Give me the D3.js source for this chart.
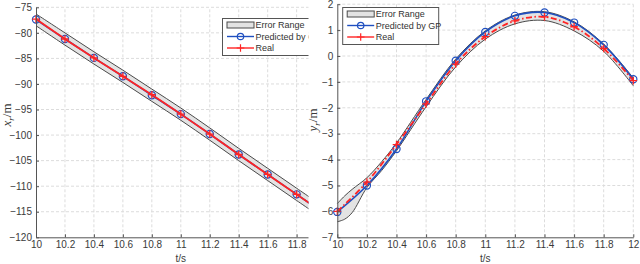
<!DOCTYPE html>
<html>
<head>
<meta charset="utf-8">
<script src="https://cdn.jsdelivr.net/npm/d3@7/dist/d3.min.js"></script>
<style>
  body { margin: 0; background: #fff; }
  text { font-family: "Liberation Sans", Arial, sans-serif; }
</style>
</head>
<body>
<div id="chart"></div>
<script>
// time samples (s)
var tVals = [10, 10.2, 10.4, 10.6, 10.8, 11, 11.2, 11.4, 11.6, 11.8, 12];
var xTicks = [10, 10.2, 10.4, 10.6, 10.8, 11, 11.2, 11.4, 11.6, 11.8, 12];

// left panel: x_r
var xPred = [-77.4, -81.2, -84.9, -88.5, -92.2, -95.9, -99.8, -103.8, -107.7, -111.6, -115.5];
var xReal = [-77.3, -81.2, -84.9, -88.5, -92.1, -95.9, -99.8, -103.8, -107.7, -111.6, -115.5];
var xUpper = [-76.3, -80.0, -83.7, -87.3, -91.0, -94.7, -98.6, -102.6, -106.5, -110.4, -114.3];
var xLower = [-78.6, -82.4, -86.1, -89.7, -93.4, -97.1, -101.0, -105.0, -108.9, -112.8, -116.7];
var xYTicks = [-120, -115, -110, -105, -100, -95, -90, -85, -80, -75];

// right panel: y_r
var yPred = [-6.02, -5.0, -3.59, -1.75, -0.18, 0.93, 1.55, 1.68, 1.29, 0.43, -0.9];
var yReal = [-6.0, -4.87, -3.42, -1.85, -0.31, 0.75, 1.36, 1.51, 1.13, 0.29, -0.95];
var bandT = [10, 10.05, 10.1, 10.2, 10.3, 10.4, 10.6, 10.8, 11, 11.2, 11.4, 11.6, 11.8, 12];
var yUpper = [-5.7, -5.4, -5.15, -4.7, -4.08, -3.36, -1.68, -0.12, 0.97, 1.58, 1.71, 1.32, 0.46, -0.85];
var yLower = [-6.4, -6.3, -6.05, -5.08, -4.42, -3.66, -1.96, -0.42, 0.65, 1.24, 1.37, 0.97, 0.18, -1.15];
var yYTicks = [-7, -6, -5, -4, -3, -2, -1, 0, 1, 2];

var legendNames = ["Error Range", "Predicted by GP", "Real"];

var blue = "#1f4fc0", red = "#ff2424";

var svg = d3.select("#chart").append("svg")
    .attr("width", 640)
    .attr("height", 264);

svg.append("defs").append("clipPath").attr("id", "clipL")
    .append("rect").attr("x", 0).attr("y", 0).attr("width", 308.5).attr("height", 264);

function drawPanel(g, cfg) {
    var x = cfg.x, y = cfg.y;
    var x0 = x.range()[0], x1 = x.range()[1];
    var yb = y.range()[0], yt = y.range()[1];
    var ticksX = xTicks.filter(function (d) { return x(d) <= cfg.xMax; });

    // grid
    g.append("g").selectAll("line.gx")
        .data(ticksX.slice(1))
        .enter().append("line")
        .attr("x1", function (d) { return x(d); })
        .attr("x2", function (d) { return x(d); })
        .attr("y1", yb).attr("y2", yt)
        .attr("stroke", "#dcdcdc").attr("stroke-dasharray", "3,2");
    g.append("g").selectAll("line.gy")
        .data(cfg.yTicks.slice(1))
        .enter().append("line")
        .attr("x1", x0).attr("x2", x1)
        .attr("y1", function (d) { return y(d); })
        .attr("y2", function (d) { return y(d); })
        .attr("stroke", "#dcdcdc").attr("stroke-dasharray", "3,2");

    // error band
    var area = d3.area()
        .x(function (d) { return x(d.t); })
        .y0(function (d) { return y(d.lo); })
        .y1(function (d) { return y(d.hi); })
        .curve(d3.curveCatmullRom);
    var bandData = cfg.bandT.map(function (t, i) { return { t: t, lo: cfg.lower[i], hi: cfg.upper[i] }; });
    g.append("path").datum(bandData)
        .attr("d", area)
        .attr("fill", "#e3e3e3");
    var edge = d3.line()
        .x(function (d) { return x(d[0]); })
        .y(function (d) { return y(d[1]); })
        .curve(d3.curveCatmullRom);
    [cfg.upper, cfg.lower].forEach(function (arr) {
        g.append("path").datum(cfg.bandT.map(function (t, i) { return [t, arr[i]]; }))
            .attr("d", edge).attr("fill", "none")
            .attr("stroke", "#4a4a4a").attr("stroke-width", 1);
    });

    // predicted
    g.append("path").datum(tVals.map(function (t, i) { return [t, cfg.pred[i]]; }))
        .attr("d", edge).attr("fill", "none")
        .attr("stroke", blue).attr("stroke-width", 1.6);
    g.append("g").selectAll("circle")
        .data(tVals.map(function (t, i) { return [t, cfg.pred[i]]; }))
        .enter().append("circle")
        .attr("cx", function (d) { return x(d[0]); })
        .attr("cy", function (d) { return y(d[1]); })
        .attr("r", 3.6)
        .attr("fill", "none").attr("stroke", blue).attr("stroke-width", 1.2);

    // real
    g.append("path").datum(tVals.map(function (t, i) { return [t, cfg.real[i]]; }))
        .attr("d", edge).attr("fill", "none")
        .attr("stroke", red).attr("stroke-width", 1.8)
        .attr("stroke-dasharray", cfg.realDash);
    g.append("g").selectAll("path.plus")
        .data(tVals.map(function (t, i) { return [t, cfg.real[i]]; }))
        .enter().append("path")
        .attr("transform", function (d) { return "translate(" + x(d[0]) + "," + y(d[1]) + ")"; })
        .attr("d", "M-3.8,0H3.8M0,-3.8V3.8")
        .attr("stroke", red).attr("stroke-width", 1.3);

    // axes
    var xa = g.append("g")
        .attr("transform", "translate(0," + yb + ")")
        .call(d3.axisBottom(x).tickValues(ticksX).tickSizeInner(-3).tickSizeOuter(0).tickPadding(4)
            .tickFormat(d3.format("~g")));
    var ya = g.append("g")
        .attr("transform", "translate(" + x0 + ",0)")
        .call(d3.axisLeft(y).tickValues(cfg.yTicks).tickSizeInner(-3).tickSizeOuter(0).tickPadding(4)
            .tickFormat(d3.format("~g")));
    [xa, ya].forEach(function (a) {
        a.select(".domain").attr("stroke", "#555");
        a.selectAll(".tick line").attr("stroke", "#555");
        a.selectAll(".tick text").attr("fill", "#3a3a3a").style("font-size", "10px")
            .style("font-family", "'Liberation Sans', Arial, sans-serif");
    });

    g.append("text")
        .attr("x", (x0 + x1) / 2).attr("y", 262)
        .attr("text-anchor", "middle")
        .attr("fill", "#3a3a3a").style("font-size", "10px")
        .text("t/s");

    // legend
    var L = cfg.legend;
    var lg = g.append("g").attr("transform", "translate(" + L.x + "," + L.y + ")");
    lg.append("rect").attr("width", 96).attr("height", 37)
        .attr("fill", "#fff").attr("stroke", "#555").attr("stroke-width", 1);
    var rows = [6.5, 18, 29.5];
    lg.append("rect").attr("x", 4.5).attr("y", rows[0] - 3).attr("width", 27).attr("height", 6)
        .attr("fill", "#e3e3e3").attr("stroke", "#4a4a4a");
    lg.append("line").attr("x1", 4.5).attr("x2", 31.5).attr("y1", rows[1]).attr("y2", rows[1])
        .attr("stroke", blue).attr("stroke-width", 1.4);
    lg.append("circle").attr("cx", 18).attr("cy", rows[1]).attr("r", 3.2)
        .attr("fill", "none").attr("stroke", blue).attr("stroke-width", 1.2);
    lg.append("line").attr("x1", 4.5).attr("x2", 31.5).attr("y1", rows[2]).attr("y2", rows[2])
        .attr("stroke", red).attr("stroke-width", 1.4);
    lg.append("path").attr("transform", "translate(18," + rows[2] + ")")
        .attr("d", "M-3.8,0H3.8M0,-3.8V3.8").attr("stroke", red).attr("stroke-width", 1.2);
    lg.selectAll("text.lt").data(legendNames).enter().append("text")
        .attr("x", 33).attr("y", function (d, i) { return rows[i] + 3.2; })
        .attr("fill", "#333").style("font-size", "9px")
        .text(function (d) { return d; });

    // y label
    var yl = g.append("text")
        .attr("transform", "translate(" + cfg.ylab[0] + "," + cfg.ylab[1] + ") rotate(-90)")
        .attr("text-anchor", "middle")
        .attr("fill", "#3a3a3a")
        .style("font-family", "'Liberation Serif', 'DejaVu Serif', serif")
        .style("font-size", "13px");
    yl.append("tspan").style("font-style", "italic").text(cfg.ysym);
    yl.append("tspan").style("font-style", "italic").style("font-size", "9px").attr("dy", 3).text("r");
    yl.append("tspan").attr("dy", -3).text("/m");
}

// left panel (cropped on the right)
drawPanel(svg.append("g").attr("clip-path", "url(#clipL)"), {
    x: d3.scaleLinear().domain([10, 12]).range([36, 325.6]),
    y: d3.scaleLinear().domain([-120, -75]).range([237.3, 7.3]),
    xMax: 308,
    yTicks: xYTicks,
    pred: xPred, real: xReal,
    bandT: tVals, upper: xUpper, lower: xLower,
    realDash: null,
    legend: { x: 222.5, y: 18.5 },
    ylab: [11, 115], ysym: "x"
});

// right panel
drawPanel(svg.append("g"), {
    x: d3.scaleLinear().domain([10, 12]).range([337.3, 633.3]),
    y: d3.scaleLinear().domain([-7, 2]).range([237.3, 4.2]),
    xMax: 640,
    yTicks: yYTicks,
    pred: yPred, real: yReal,
    bandT: bandT, upper: yUpper, lower: yLower,
    realDash: "6,2.5,1.5,2.5",
    legend: { x: 342.7, y: 7.5 },
    ylab: [317, 120], ysym: "y"
});
</script>
</body>
</html>
